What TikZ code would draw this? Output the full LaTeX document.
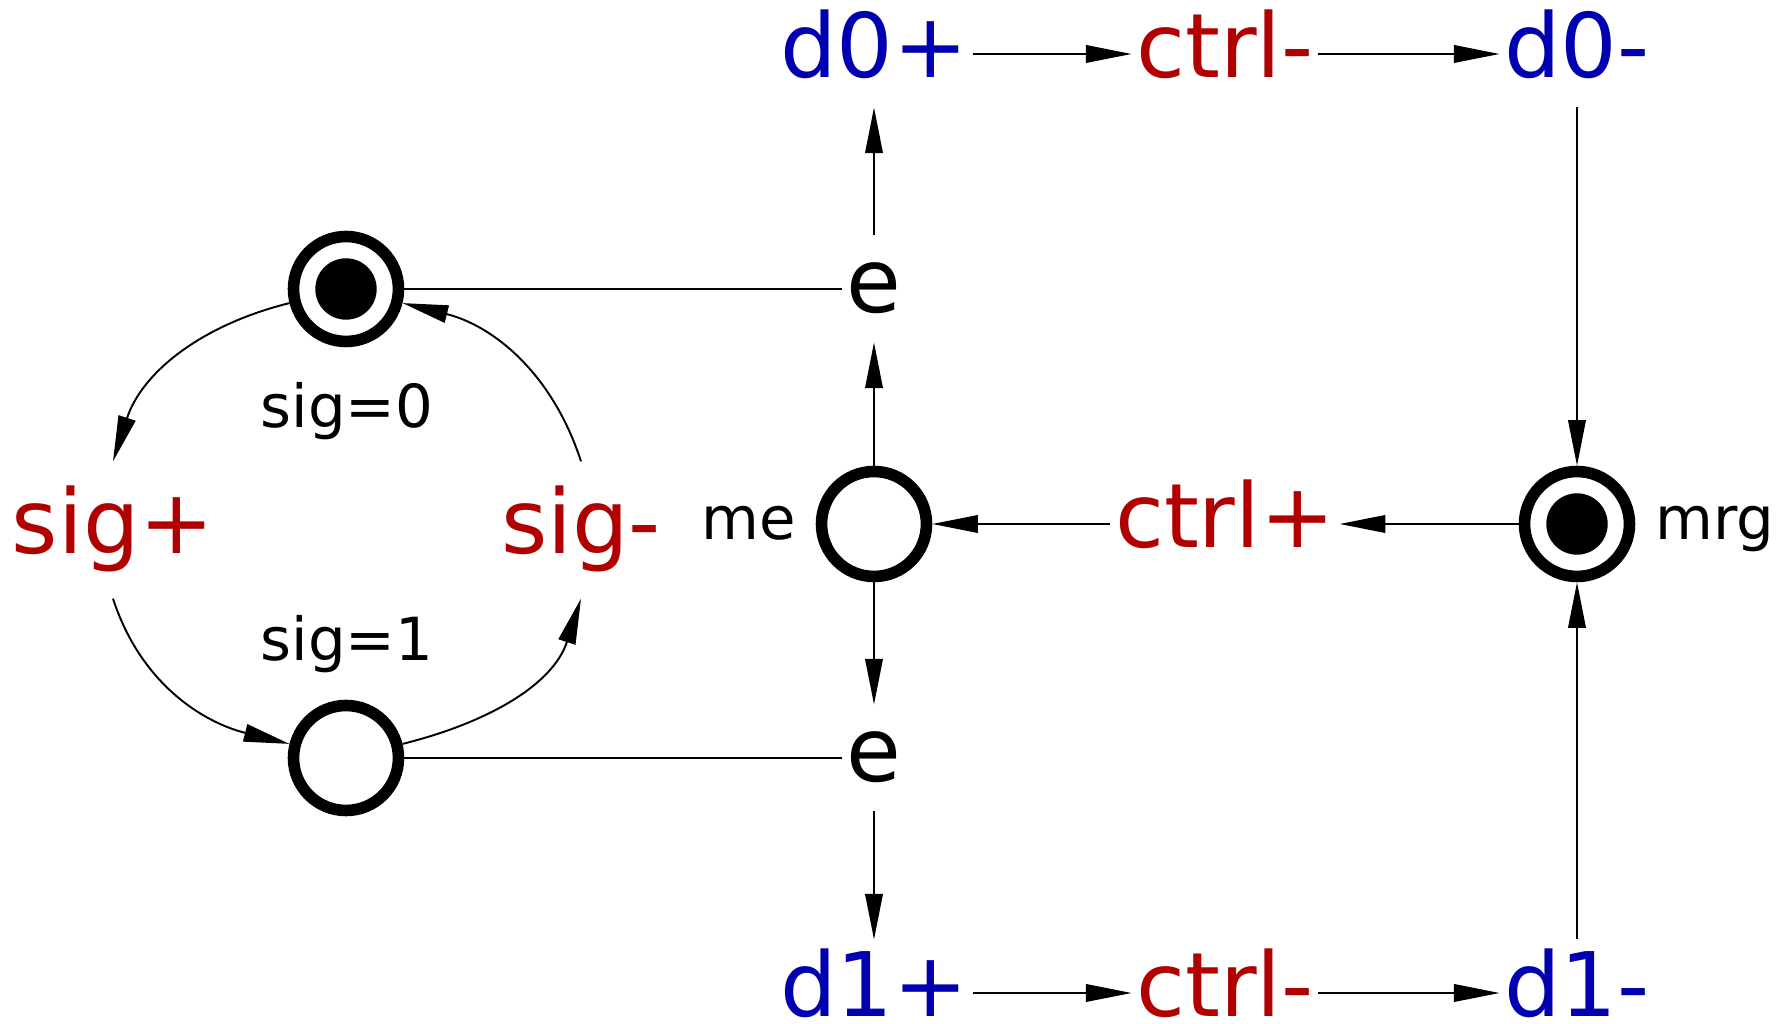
\documentclass[tikz,border=0pt]{standalone}
\usepackage{fontspec}
\setmainfont{DejaVu Sans}
\usetikzlibrary{arrows.meta}

\definecolor{sigred}{RGB}{176,0,0}
\definecolor{datblue}{RGB}{0,0,176}

\begin{document}
\begin{tikzpicture}[x=0.02cm,y=0.02cm,
		big/.style={font=\fontsize{50.7pt}{60pt}\selectfont,text height=38.5pt,text depth=12pt,inner xsep=2.5pt,inner ysep=5pt},
		sig/.style={big,text=sigred,inner ysep=13.6pt},
		small/.style={font=\fontsize{33.8pt}{40pt}\selectfont,text height=26pt,text depth=8pt,inner sep=2pt},
		place/.style={circle,draw,line width=6.6pt,minimum size=2.1cm,inner sep=0pt,fill=white},
		arc/.style={line width=1.1pt,-{Triangle[length=26pt,width=10pt]}},
		link/.style={line width=1.1pt}]
			
			\useasboundingbox (0,0) rectangle (1779,1024);
			
			\node[place] (pA) at (346,735) {};
			\node[place] (pB) at (346,266) {};
			\node[place] (pM) at (874,500) {};
			\node[place] (pR) at (1577,500) {};
			\fill (pA.center) circle (30.7);
			\fill (pR.center) circle (30.7);
			
			\node[sig] (sigp) at (113,494) {sig+};
			\node[sig] (sigm) at (581,494) {sig-};
			\node[small] (sig0) at (347,612) {sig=0};
			\node[small] (sig1) at (347,379) {sig=1};
			
			\node[big] (eA) at (874,735) {e};
			\node[big] (eB) at (874,266) {e};
			\node[small] (me) at (749,500) {me};
			\node[small] (mrg) at (1715,500) {mrg};
			
			\node[big,text=datblue] (d0p) at (874,970) {d0+};
			\node[big,text=sigred] (ctrlA) at (1225,970) {ctrl-};
			\node[big,text=datblue] (d0m) at (1577,970) {d0-};
			\node[big,text=sigred] (ctrlP) at (1225,500) {ctrl+};
			\node[big,text=datblue] (d1p) at (874,31) {d1+};
			\node[big,text=sigred] (ctrlB) at (1225,31) {ctrl-};
			\node[big,text=datblue] (d1m) at (1577,31) {d1-};
			
			% the sig cycle
			\draw[arc] (pA) to[out=194,in=72] (sigp.north);
			\draw[arc] (sigp.south) to[out=288,in=166] (pB);
			\draw[arc] (pB) to[out=14,in=252] (sigm.south);
			\draw[arc] (sigm.north) to[out=108,in=346] (pA);
			
			\draw[link] (pA) -- (eA);
			\draw[link] (pB) -- (eB);
			
			\draw[arc] (pM) -- (eA);
			\draw[arc] (eA) -- (d0p);
			\draw[arc] (pM) -- (eB);
			\draw[arc] (eB) -- (d1p);
			
			\draw[arc] (d0p) -- (ctrlA);
			\draw[arc] (ctrlA) -- (d0m);
			\draw[arc] (d0m) -- (pR);
			\draw[arc] (d1p) -- (ctrlB);
			\draw[arc] (ctrlB) -- (d1m);
			\draw[arc] (d1m) -- (pR);
			\draw[arc] (pR) -- (ctrlP);
			\draw[arc] (ctrlP) -- (pM);
			
		\end{tikzpicture}
\end{document}
